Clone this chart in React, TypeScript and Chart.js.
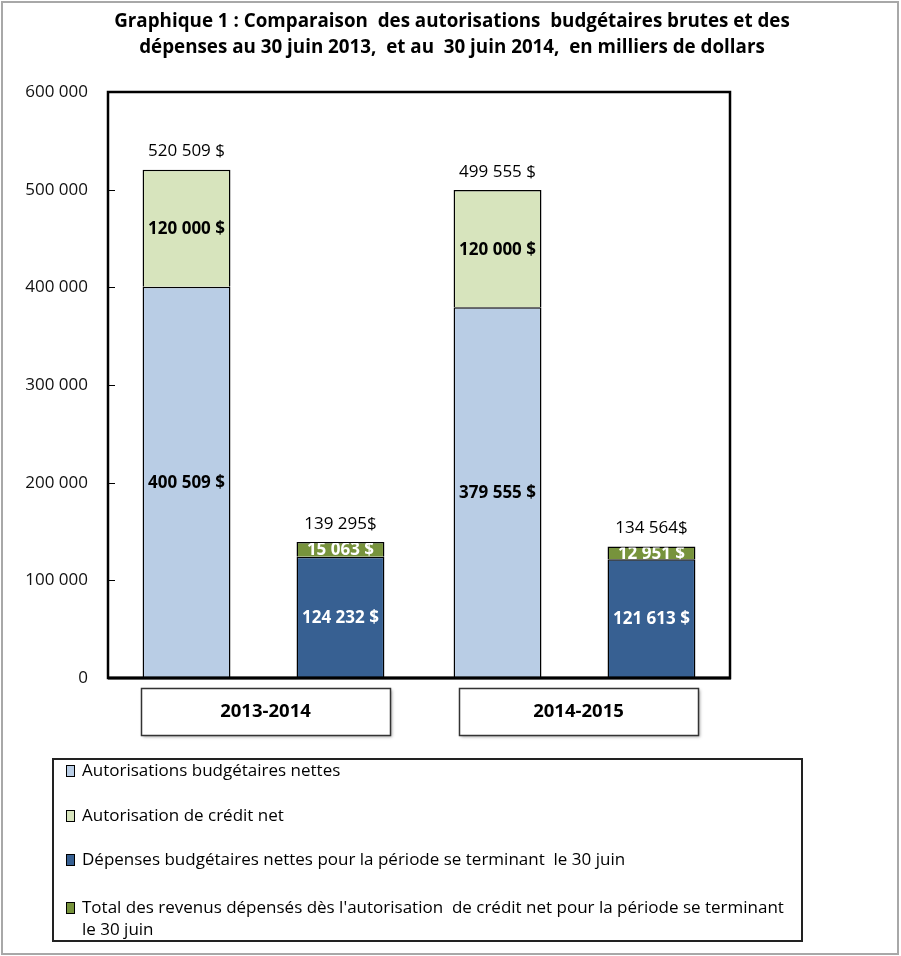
import React, { useEffect, useRef } from "react";
import { Chart, registerables } from "chart.js";

Chart.register(...registerables);

const FONT = "'Open Sans', Lato, sans-serif";

const titleLines = [
  "Graphique 1 : Comparaison  des autorisations  budgétaires brutes et des",
  "dépenses au 30 juin 2013,  et au  30 juin 2014,  en milliers de dollars",
];
const categories = ["2013-2014", "2014-2015"];
const autorisationsNettes = [400509, 379555];
const autorisationCredit = [120000, 120000];
const depensesNettes = [124232, 121613];
const revenusDepenses = [15063, 12951];
const seriesNames = [
  "Autorisations budgétaires nettes",
  "Autorisation de crédit net",
  "Dépenses budgétaires nettes pour la période se terminant  le 30 juin",
  "Total des revenus dépensés dès l'autorisation  de crédit net pour la période se terminant le 30 juin",
];
const seriesColors = ["#B9CDE5", "#D7E4BD", "#376092", "#77933C"];
const labelColors = ["#000000", "#000000", "#FFFFFF", "#FFFFFF"];
const stacks = ["a", "a", "b", "b"];
const totalSuffix = { a: " $", b: "$" } as Record<string, string>;
const yTicks = [0, 100000, 200000, 300000, 400000, 500000, 600000];

const fmt = (v: number) => String(Math.round(v)).replace(/\B(?=(\d{3})+(?!\d))/g, " ");

const overlay = {
  id: "overlay",
  afterDraw(chart: any) {
    const ctx: CanvasRenderingContext2D = chart.ctx;
    const ca = chart.chartArea;
    const xs = chart.scales.x;
    const ys = chart.scales.y;
    ctx.save();

    // outer frame
    ctx.strokeStyle = "#a8a8a8";
    ctx.lineWidth = 2;
    ctx.strokeRect(2, 2, 896, 952);

    // title
    ctx.fillStyle = "#000";
    ctx.font = `bold 18.8px ${FONT}`;
    ctx.textAlign = "center";
    ctx.textBaseline = "middle";
    titleLines.forEach((l, i) => ctx.fillText(l, 452, 22 + i * 26));

    // plot border
    ctx.strokeStyle = "#000";
    ctx.lineWidth = 2.5;
    ctx.strokeRect(ca.left, ca.top, ca.right - ca.left, ca.bottom - ca.top);
    ctx.lineWidth = 3;
    ctx.beginPath();
    ctx.moveTo(ca.left, ca.bottom);
    ctx.lineTo(ca.right + 1, ca.bottom);
    ctx.stroke();

    // inner tick marks
    ctx.lineWidth = 1;
    yTicks.forEach((v) => {
      const y = Math.round(ys.getPixelForValue(v)) + 0.5;
      ctx.beginPath();
      ctx.moveTo(ca.left, y);
      ctx.lineTo(ca.left + 7, y);
      ctx.stroke();
    });

    // segment labels
    ctx.font = `bold 17px ${FONT}`;
    chart.data.datasets.forEach((ds: any, di: number) => {
      const meta = chart.getDatasetMeta(di);
      meta.data.forEach((el: any, i: number) => {
        const w = el.width;
        const top = Math.min(el.y, el.base);
        const h = Math.abs(el.base - el.y);
        ctx.save();
        ctx.beginPath();
        ctx.rect(el.x - w / 2, top + 1, w, h - 1);
        ctx.clip();
        ctx.fillStyle = labelColors[di];
        ctx.textAlign = "center";
        ctx.textBaseline = "middle";
        ctx.fillText(fmt(ds.data[i]) + " $", el.x, (el.y + el.base) / 2 + 1);
        ctx.restore();
      });
    });

    // totals above stacks
    ctx.font = `17px ${FONT}`;
    ctx.fillStyle = "#000";
    ctx.textAlign = "center";
    ctx.textBaseline = "middle";
    ["a", "b"].forEach((s) => {
      const idx = chart.data.datasets
        .map((d: any, k: number) => (d.stack === s ? k : -1))
        .filter((k: number) => k >= 0);
      const topIdx = idx[idx.length - 1];
      const meta = chart.getDatasetMeta(topIdx);
      meta.data.forEach((el: any, i: number) => {
        const total = idx.reduce((acc: number, k: number) => acc + chart.data.datasets[k].data[i], 0);
        ctx.fillText(fmt(total) + totalSuffix[s], el.x, el.y - 18);
      });
    });

    // category boxes
    const boxW = [249, 239];
    const boxShift = [2, 4];
    categories.forEach((c, i) => {
      const cx = xs.getPixelForValue(i) + boxShift[i];
      const bw = boxW[i];
      const x0 = Math.round(cx - bw / 2) + 0.5;
      ctx.save();
      ctx.shadowColor = "rgba(0,0,0,0.35)";
      ctx.shadowBlur = 3;
      ctx.shadowOffsetX = 1.5;
      ctx.shadowOffsetY = 1.5;
      ctx.fillStyle = "#fff";
      ctx.fillRect(x0, 688.5, bw, 47);
      ctx.restore();
      ctx.strokeStyle = "#333";
      ctx.lineWidth = 1.5;
      ctx.strokeRect(x0, 688.5, bw, 47);
      ctx.fillStyle = "#000";
      ctx.font = `bold 18.5px ${FONT}`;
      ctx.fillText(c, cx, 712);
    });

    // legend box
    const lx = 53, ly = 759, lw = 749, lh = 182;
    ctx.strokeStyle = "#222";
    ctx.lineWidth = 2;
    ctx.strokeRect(lx, ly, lw, lh);
    const rows = [771, 816, 860, 908];
    ctx.font = `17px ${FONT}`;
    ctx.textAlign = "left";
    ctx.textBaseline = "middle";
    chart.data.datasets.forEach((ds: any, di: number) => {
      const y = rows[di];
      ctx.fillStyle = ds.backgroundColor;
      ctx.fillRect(66.5, y - 5.5, 8, 11);
      ctx.strokeStyle = "#000";
      ctx.lineWidth = 1;
      ctx.strokeRect(66.5, y - 5.5, 8, 11);
      ctx.fillStyle = "#000";
      // word wrap
      const words = ds.label.split(" ");
      const maxW = 718;
      let line = "";
      let yy = y;
      words.forEach((wd: string) => {
        const test = line === "" ? wd : line + " " + wd;
        if (ctx.measureText(test).width > maxW && line !== "") {
          ctx.fillText(line, 82, yy);
          line = wd;
          yy += 22;
        } else {
          line = test;
        }
      });
      if (line) ctx.fillText(line, 82, yy);
    });

    ctx.restore();
  },
};

export default function App() {
  const ref = useRef<HTMLCanvasElement | null>(null);
  useEffect(() => {
    document.body.style.margin = "0";
    const canvas = ref.current!;
    const seriesData = [autorisationsNettes, autorisationCredit, depensesNettes, revenusDepenses];
    const chart = new Chart(canvas, {
      type: "bar",
      data: {
        labels: categories,
        datasets: seriesData.map((d, i) => ({
          label: seriesNames[i],
          data: d,
          stack: stacks[i],
          backgroundColor: seriesColors[i],
          borderColor: "#000",
          borderWidth: 1.5,
          categoryPercentage: 0.99,
          barPercentage: 0.571,
        })),
      },
      options: {
        animation: false,
        responsive: false,
        devicePixelRatio: 1,
        layout: { padding: { left: 0, top: 92, right: 171, bottom: 278 } },
        plugins: {
          legend: { display: false },
          title: { display: false },
          tooltip: { enabled: false },
        },
        scales: {
          x: { display: false, stacked: true },
          y: {
            stacked: true,
            min: 0,
            max: 600000,
            position: "left",
            afterFit: (s: any) => {
              s.width = 108;
            },
            afterBuildTicks: (s: any) => {
              s.ticks = yTicks.map((v) => ({ value: v }));
            },
            ticks: {
              padding: 20,
              color: "#111",
              font: { family: FONT, size: 17 },
              callback: (v: any) => fmt(Number(v)),
            },
            grid: { display: false, drawTicks: false },
            border: { display: false },
          },
        },
      },
      plugins: [overlay],
    } as any);
    return () => chart.destroy();
  }, []);
  return (
    <div style={{ width: 901, height: 956, background: "#fff" }}>
      <canvas ref={ref} width={901} height={956} style={{ display: "block" }} />
    </div>
  );
}
